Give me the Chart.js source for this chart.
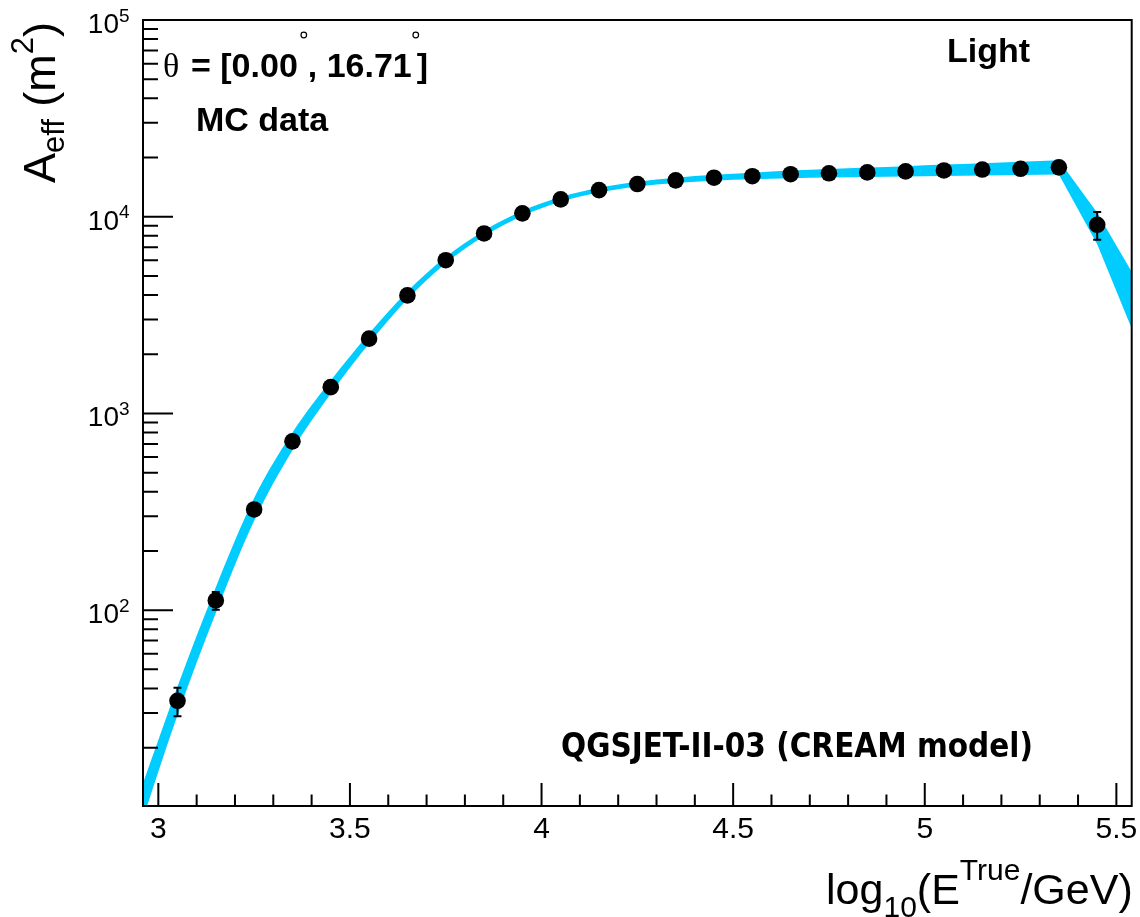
<!DOCTYPE html>
<html>
<head>
<meta charset="utf-8">
<script src="https://cdn.jsdelivr.net/npm/chart.js@4/dist/chart.umd.min.js"></script>
<style>
  html, body { margin: 0; padding: 0; background: #ffffff; }
  #wrap { width: 1140px; height: 917px; position: relative; }
</style>
</head>
<body>
<div id="wrap"><canvas id="c" width="1140" height="917"></canvas></div>
<script>
// Effective area per energy bin (MC), log10(E/GeV) bin centres
const energyBins = [3.05, 3.15, 3.25, 3.35, 3.45, 3.55, 3.65, 3.75, 3.85, 3.95,
                    4.05, 4.15, 4.25, 4.35, 4.45, 4.55, 4.65, 4.75, 4.85, 4.95,
                    5.05, 5.15, 5.25, 5.35, 5.45];
const effArea = [34.6, 112, 325, 721, 1360, 2400, 3980, 6010, 8220, 10400,
                 12250, 13650, 14660, 15310, 15780, 16070, 16440, 16630, 16800, 17000,
                 17180, 17370, 17530, 17820, 9100];
const effAreaErr = [5.7, 11.5, 14, 22, 35, 50, 70, 95, 120, 140,
                    160, 170, 180, 190, 200, 210, 220, 230, 240, 250,
                    260, 270, 280, 290, 1460];

// Fit uncertainty band: rising part
const bandX = [2.96, 3.00, 3.05, 3.15, 3.25, 3.35, 3.45, 3.55, 3.65, 3.75,
               3.85, 3.95, 4.05, 4.15, 4.25, 4.35, 4.45, 4.55, 4.65, 4.75,
               4.85, 4.95, 5.05, 5.15, 5.25, 5.35];
const bandHigh = [13.2, 21.9, 40.9, 130.9, 371.5, 799.8, 1469, 2547, 4169, 6237,
                  8492, 10715, 12589, 14028, 15066, 15776, 16331, 16749, 17179, 17498,
                  17783, 18072, 18408, 18707, 19055, 19364];
const bandLow = [8.7, 15.1, 29.2, 96.6, 284.4, 650.1, 1262, 2270, 3802, 5794,
                 7962, 10093, 11912, 13274, 14256, 14859, 15241, 15488, 15668, 15812,
                 15922, 16032, 16106, 16218, 16293, 16406];
// Fit uncertainty band: high-energy drop
const tailX = [5.35, 5.45, 5.54];
const tailHigh = [19364, 10471, 5248];
const tailLow = [16406, 7244, 2704];

// Axis ticks
const xMajorTicks = [3, 3.5, 4, 4.5, 5, 5.5];
const xTickLabels = ['3', '3.5', '4', '4.5', '5', '5.5'];
const yDecadeExponents = [2, 3, 4, 5];

const BAND = '#00ccff';
const SANS = "'Liberation Sans', Arial, Helvetica, sans-serif";

const pts = (xs, ys) => xs.map((x, i) => ({ x: x, y: ys[i] }));

// Error bars on the MC points
const errorBars = {
  id: 'errorBars',
  afterDatasetsDraw(chart) {
    const { ctx, chartArea: a, scales: { x, y } } = chart;
    ctx.save();
    ctx.beginPath();
    ctx.rect(a.left, a.top, a.right - a.left, a.bottom - a.top);
    ctx.clip();
    ctx.strokeStyle = '#000';
    ctx.lineWidth = 2;
    energyBins.forEach((e, i) => {
      const px = x.getPixelForValue(e);
      const hi = y.getPixelForValue(effArea[i] + effAreaErr[i]);
      const lo = y.getPixelForValue(Math.max(effArea[i] - effAreaErr[i], 1e-3));
      ctx.beginPath();
      ctx.moveTo(px, hi); ctx.lineTo(px, lo);
      ctx.moveTo(px - 4, hi); ctx.lineTo(px + 4, hi);
      ctx.moveTo(px - 4, lo); ctx.lineTo(px + 4, lo);
      ctx.stroke();
    });
    ctx.restore();
  }
};

// Frame, inward ticks, tick labels, titles and annotations
const frameAndText = {
  id: 'frameAndText',
  afterDraw(chart) {
    const { ctx, chartArea: a, scales: { x, y } } = chart;
    ctx.save();
    ctx.strokeStyle = '#000';
    ctx.lineWidth = 2;

    // x ticks
    ctx.beginPath();
    for (let k = 30; k <= 55; k++) {
      const v = k / 10;
      const px = x.getPixelForValue(v);
      const major = (k % 5 === 0);
      ctx.moveTo(px, a.bottom);
      ctx.lineTo(px, a.bottom - (major ? 23 : 11.5));
    }
    // y ticks (log)
    for (let n = 1; n <= 4; n++) {
      for (let m = 1; m <= 9; m++) {
        const v = m * Math.pow(10, n);
        if (v < y.min || v > y.max) continue;
        const py = y.getPixelForValue(v);
        ctx.moveTo(a.left, py);
        ctx.lineTo(a.left + (m === 1 ? 30 : 15), py);
      }
    }
    ctx.stroke();

    // frame
    ctx.strokeRect(a.left, a.top, a.right - a.left, a.bottom - a.top);

    ctx.fillStyle = '#000';
    // x tick labels
    ctx.font = '30px ' + SANS;
    ctx.textAlign = 'center';
    ctx.textBaseline = 'alphabetic';
    xMajorTicks.forEach((v, i) => {
      ctx.fillText(xTickLabels[i], x.getPixelForValue(v), 838);
    });

    // y tick labels 10^n
    yDecadeExponents.forEach(n => {
      const py = y.getPixelForValue(Math.pow(10, n));
      ctx.font = '28px ' + SANS;
      ctx.textAlign = 'right';
      ctx.fillText('10', 119, py + 13);
      ctx.font = '19px ' + SANS;
      ctx.textAlign = 'left';
      ctx.fillText(String(n), 119, py + 1.5);
    });

    // rich text helper: parts [text, size, dy]
    const drawParts = (parts, x0, y0) => {
      let cx = x0;
      parts.forEach(p => {
        ctx.font = (p.bold ? 'bold ' : '') + p.size + 'px ' + (p.family || SANS);
        ctx.textAlign = 'left';
        ctx.fillText(p.t, cx, y0 + (p.dy || 0));
        cx += ctx.measureText(p.t).width;
      });
      return cx - x0;
    };
    const measureParts = parts => {
      let w = 0;
      parts.forEach(p => {
        ctx.font = (p.bold ? 'bold ' : '') + p.size + 'px ' + (p.family || SANS);
        w += ctx.measureText(p.t).width;
      });
      return w;
    };

    // x-axis title
    const xTitle = [
      { t: 'log', size: 43 },
      { t: '10', size: 30, dy: 13 },
      { t: '(E', size: 43 },
      { t: 'True', size: 30, dy: -24 },
      { t: '/GeV)', size: 43 }
    ];
    drawParts(xTitle, a.right + 1 - measureParts(xTitle), 904);

    // y-axis title (rotated)
    const yTitle = [
      { t: 'A', size: 45 },
      { t: 'eff', size: 31, dy: 9 },
      { t: ' (m', size: 45 },
      { t: '2', size: 31, dy: -22 },
      { t: ')', size: 45 }
    ];
    const yw = measureParts(yTitle);
    ctx.save();
    ctx.translate(55, 22 + yw);
    ctx.rotate(-Math.PI / 2);
    drawParts(yTitle, 0, 0);
    ctx.restore();

    // theta range with degree rings
    ctx.font = "34px 'Liberation Serif', 'DejaVu Serif', serif";
    ctx.textAlign = 'left';
    ctx.fillText('\u03B8', 163, 77);
    const ring = (cx, cy) => {
      ctx.save();
      ctx.lineWidth = 1.2;
      ctx.beginPath();
      ctx.arc(cx, cy, 2.8, 0, Math.PI * 2);
      ctx.stroke();
      ctx.restore();
    };
    ctx.font = 'bold 34px ' + SANS;
    let tx = 191;
    ctx.fillText('= [0.00', tx, 77);
    tx += ctx.measureText('= [0.00').width;
    ring(tx + 6, 35);
    tx += 10;
    ctx.fillText(', 16.71', tx, 77);
    tx += ctx.measureText(', 16.71').width;
    ring(tx + 4, 35);
    tx += 5;
    ctx.fillText(']', tx, 77);

    ctx.fillText('MC data', 196, 131);
    ctx.fillText('Light', 947, 62);

    // model label
    const modelFont = "'DejaVu Sans Condensed', 'DejaVu Sans', sans-serif";
    ctx.font = 'bold 30px ' + modelFont;
    const mw = ctx.measureText('QGSJET-II-03 (CREAM model)').width;
    const ms = 30 * 472 / mw;
    ctx.font = 'bold ' + ms.toFixed(2) + 'px ' + modelFont;
    ctx.fillText('QGSJET-II-03 (CREAM model)', 561, 757);

    ctx.restore();
  }
};

const bandStyle = {
  showLine: true,
  pointRadius: 0,
  borderWidth: 0,
  borderColor: 'rgba(0,0,0,0)',
  backgroundColor: BAND
};

new Chart(document.getElementById('c'), {
  type: 'line',
  data: {
    datasets: [
      {
        label: 'MC data',
        data: pts(energyBins, effArea),
        showLine: false,
        pointRadius: 8.3,
        pointHoverRadius: 8.3,
        pointBackgroundColor: '#000',
        pointBorderColor: '#000',
        pointBorderWidth: 0
      },
      Object.assign({ label: 'fit high', data: pts(bandX, bandHigh), fill: '+1', cubicInterpolationMode: 'monotone' }, bandStyle),
      Object.assign({ label: 'fit low', data: pts(bandX, bandLow), fill: false, cubicInterpolationMode: 'monotone' }, bandStyle),
      Object.assign({ label: 'tail high', data: pts(tailX, tailHigh), fill: '+1', tension: 0 }, bandStyle),
      Object.assign({ label: 'tail low', data: pts(tailX, tailLow), fill: false, tension: 0 }, bandStyle)
    ]
  },
  options: {
    responsive: false,
    animation: false,
    devicePixelRatio: 1,
    layout: { padding: { left: 143, right: 6, top: 20, bottom: 111 } },
    scales: {
      x: { type: 'linear', min: 2.96, max: 5.54, display: false },
      y: { type: 'logarithmic', min: 10.1, max: 100000, display: false }
    },
    plugins: {
      legend: { display: false },
      tooltip: { enabled: false }
    },
    events: []
  },
  plugins: [errorBars, frameAndText]
});
</script>
</body>
</html>
